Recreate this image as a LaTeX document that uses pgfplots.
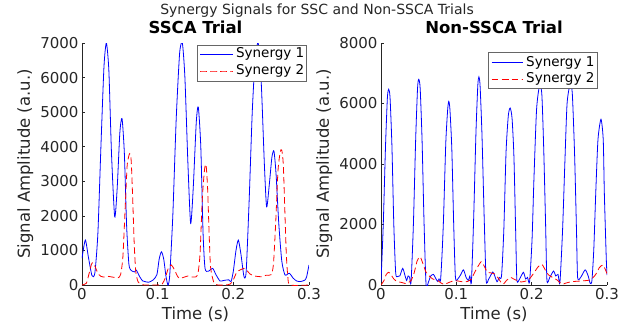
\documentclass[border=0pt]{standalone}
\usepackage{pgfplots}
\pgfplotsset{compat=1.18}
\usepackage{fontspec}
\setmainfont{DejaVu Sans}
\definecolor{mgray}{rgb}{0.15,0.15,0.15}
\tikzset{
 lbox/.style={draw=black!60, fill=white, line width=0.5pt},
 ltext/.style={anchor=west, inner sep=0pt, font=\fontsize{13.5}{15}\selectfont, text=black},
}
\begin{document}
\begin{tikzpicture}
\useasboundingbox (0pt,0pt) rectangle (634pt,335pt);
\pgfplotsset{
 mystyle/.style={
  scale only axis, height=242pt,
  axis x line*=bottom, axis y line*=left,
  axis line style={mgray, line width=0.5pt},
  tick style={mgray, line width=0.5pt}, tick align=inside, major tick length=3pt,
  xmin=0, xmax=0.3, ymin=0,
  xtick={0,0.1,0.2,0.3},
  xticklabels={0,0.1,0.2,0.3},
  ticklabel style={font=\fontsize{15}{18}\selectfont, text=mgray},
  label style={font=\fontsize{16.5}{19}\selectfont, text=mgray},
  title style={font=\bfseries\fontsize{16.5}{19}\selectfont},
  /pgf/number format/assume math mode=true,
  /pgf/number format/1000 sep={},
  xlabel={Time (s)}, ylabel={Signal Amplitude (a.u.)},
 },
 s1/.style={color=blue, line width=0.8pt, smooth, tension=0.4, mark=none},
 s2/.style={color=red, line width=0.8pt, dash pattern=on 6.5pt off 3.5pt, smooth, tension=0.4, mark=none},
}
\node[font=\fontsize{14}{16}\selectfont, text=mgray] at (317pt,324pt) {Synergy Signals for SSC and Non-SSCA Trials};

\begin{axis}[mystyle, width=227pt, at={(82pt,50pt)}, anchor=south west,
  ymax=7000, ytick={0,1000,...,7000}, title={SSCA Trial}]
\addplot[s1] coordinates {
(0,770) (0.0044,1300) (0.0085,800) (0.0132,270) (0.017,350) (0.021,1500) (0.025,4000) (0.029,6300) (0.0322,7000) (0.0355,6200) (0.039,3800) (0.0432,1975) (0.0465,2800) (0.050,4400) (0.0529,4815) (0.056,3800) (0.059,1700) (0.062,600) (0.065,420) (0.0695,380) (0.0718,430) (0.076,250) (0.080,120) (0.083,100) (0.088,80) (0.094,145) (0.099,300) (0.102,750) (0.105,960) (0.108,750) (0.111,250) (0.1137,0) (0.116,300) (0.120,2000) (0.1245,4800) (0.129,6700) (0.1326,7000) (0.136,6000) (0.140,3500) (0.1436,1780) (0.147,2800) (0.151,4700) (0.1537,5150) (0.157,4000) (0.160,1500) (0.1626,480) (0.167,400) (0.1727,480) (0.177,300) (0.1824,115) (0.187,130) (0.191,145) (0.194,150) (0.197,100) (0.200,400) (0.2035,1000) (0.2066,1300) (0.210,900) (0.2141,240) (0.217,400) (0.221,2500) (0.225,5000) (0.229,6600) (0.233,6985) (0.237,5800) (0.241,3500) (0.244,2260) (0.2475,2900) (0.251,3700) (0.2537,3870) (0.2565,3200) (0.260,1800) (0.264,700) (0.2683,290) (0.274,340) (0.279,200) (0.2837,115) (0.289,100) (0.2947,145) (0.297,250) (0.3,580)
};
\addplot[s2] coordinates {
(0,0) (0.0057,50) (0.009,300) (0.0125,600) (0.0145,645) (0.017,550) (0.021,340) (0.025,250) (0.030,230) (0.0344,250) (0.040,230) (0.0476,210) (0.051,300) (0.054,800) (0.057,2200) (0.0595,3400) (0.061,3650) (0.063,3800) (0.065,3600) (0.067,2500) (0.069,1200) (0.071,400) (0.074,95) (0.078,20) (0.083,0) (0.090,0) (0.100,0) (0.106,30) (0.110,200) (0.114,480) (0.118,580) (0.122,450) (0.126,260) (0.129,190) (0.134,220) (0.140,260) (0.145,230) (0.149,230) (0.153,300) (0.156,900) (0.159,2500) (0.162,3350) (0.164,3470) (0.166,2800) (0.168,1500) (0.170,500) (0.1745,60) (0.180,0) (0.190,0) (0.196,30) (0.200,150) (0.205,380) (0.2141,480) (0.218,420) (0.222,320) (0.228,260) (0.2375,240) (0.243,280) (0.250,300) (0.253,600) (0.256,1800) (0.259,3300) (0.262,3850) (0.264,3900) (0.266,3500) (0.268,2200) (0.270,900) (0.272,250) (0.275,0) (0.3,0)
};
% legend
\draw[lbox] (axis description cs:0.5066,0.843) rectangle (axis description cs:0.9868,0.9917);
\addplot[s1, forget plot] coordinates {(0.15595,6673) (0.19956,6673)};
\addplot[s2, forget plot] coordinates {(0.15595,6190) (0.19956,6190)};
\node[ltext] at (axis description cs:0.678,0.9533) {Synergy 1};
\node[ltext] at (axis description cs:0.678,0.8843) {Synergy 2};
\end{axis}

\begin{axis}[mystyle, width=226pt, at={(381pt,50pt)}, anchor=south west,
  ymax=8000, ytick={0,2000,...,8000}, title={Non-SSCA Trial}]
\addplot[s1] coordinates {
(0,100) (0.003,2000) (0.006,4600) (0.0085,6200) (0.0102,6470) (0.012,6200) (0.0145,4600) (0.017,2000) (0.0195,400) (0.022,280) (0.025,300) (0.0288,550) (0.032,300) (0.034,150) (0.036,300) (0.038,250) (0.0399,100) (0.043,2000) (0.046,4800) (0.0485,6500) (0.0501,6800) (0.052,6500) (0.0545,4800) (0.057,2200) (0.0598,20) (0.063,100) (0.066,300) (0.0696,350) (0.072,250) (0.075,120) (0.077,200) (0.079,150) (0.081,1000) (0.083,2200) (0.086,4700) (0.0885,5800) (0.090,6070) (0.0915,5800) (0.094,4500) (0.0965,2000) (0.0988,250) (0.102,200) (0.106,350) (0.1095,500) (0.113,250) (0.116,150) (0.118,300) (0.120,100) (0.123,2200) (0.126,5000) (0.1285,6600) (0.130,6880) (0.1315,6600) (0.134,5000) (0.137,2200) (0.1396,150) (0.143,200) (0.1484,430) (0.151,300) (0.154,110) (0.157,250) (0.160,300) (0.163,1800) (0.166,4400) (0.169,5600) (0.1715,5850) (0.174,5500) (0.1765,4200) (0.179,1500) (0.1804,150) (0.184,200) (0.189,420) (0.192,200) (0.1945,250) (0.1972,100) (0.2005,1500) (0.203,3500) (0.2065,5800) (0.2105,6600) (0.2135,6300) (0.216,4500) (0.2185,2000) (0.2203,150) (0.224,250) (0.229,460) (0.232,300) (0.235,350) (0.2375,80) (0.241,1800) (0.244,4000) (0.247,6000) (0.2512,6650) (0.254,6300) (0.257,4300) (0.2595,1800) (0.261,250) (0.265,250) (0.271,500) (0.275,300) (0.2778,50) (0.280,150) (0.2825,1200) (0.285,3000) (0.288,4800) (0.292,5480) (0.295,4800) (0.2965,3000) (0.299,900) (0.3,330)
};
\addplot[s2] coordinates {
(0,0) (0.004,150) (0.007,350) (0.0102,420) (0.013,350) (0.017,200) (0.021,120) (0.0244,100) (0.028,80) (0.032,50) (0.036,80) (0.040,150) (0.044,400) (0.048,800) (0.0519,935) (0.055,750) (0.0598,420) (0.064,300) (0.0686,200) (0.075,150) (0.080,60) (0.0837,20) (0.088,60) (0.094,120) (0.0997,140) (0.105,120) (0.110,100) (0.115,120) (0.120,200) (0.125,450) (0.1329,770) (0.137,620) (0.141,430) (0.146,400) (0.1506,370) (0.155,250) (0.1595,80) (0.1626,30) (0.1665,150) (0.172,250) (0.176,200) (0.180,150) (0.186,100) (0.192,130) (0.197,200) (0.203,400) (0.2085,600) (0.2136,680) (0.218,500) (0.2225,330) (0.2335,170) (0.240,30) (0.245,60) (0.251,100) (0.258,120) (0.264,130) (0.2778,170) (0.285,350) (0.290,580) (0.2946,660) (0.298,500) (0.3,370)
};
% legend
\draw[lbox] (axis description cs:0.4735,0.814) rectangle (axis description cs:0.9558,0.9628);
\addplot[s1, forget plot] coordinates {(0.14695,7349) (0.18889,7349)};
\addplot[s2, forget plot] coordinates {(0.14695,6800) (0.18889,6800)};
\node[ltext] at (axis description cs:0.6416,0.9186) {Synergy 1};
\node[ltext] at (axis description cs:0.6416,0.85) {Synergy 2};
\end{axis}
\end{tikzpicture}
\end{document}
